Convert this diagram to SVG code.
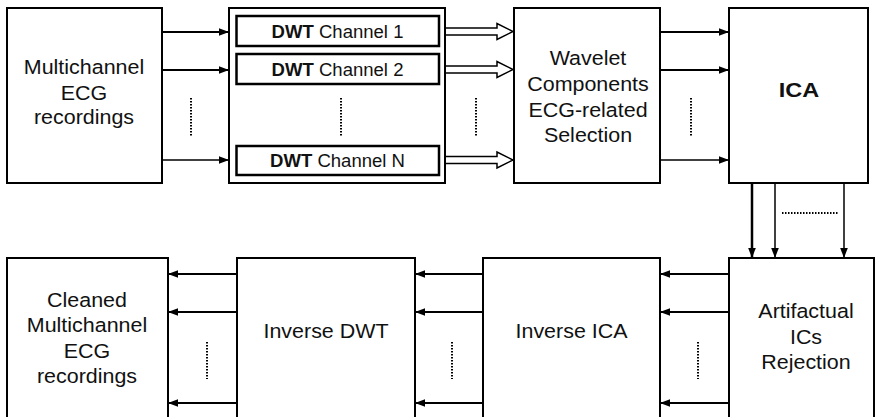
<svg xmlns="http://www.w3.org/2000/svg" width="876" height="417" viewBox="0 0 876 417">
<defs>
<style>
.box{fill:#fff;stroke:#000;stroke-width:2}
.inner{fill:#fff;stroke:#000;stroke-width:2.5}
.t{font-family:"Liberation Sans",Arial,sans-serif;font-size:19.5px;fill:#111;text-anchor:middle}
.ts{font-family:"Liberation Sans",Arial,sans-serif;font-size:17.5px;fill:#111;text-anchor:middle}
.b{font-weight:bold}
.ln{stroke:#000;stroke-width:2;fill:none}
.thin{stroke:#000;stroke-width:1.5;fill:none}
.dot{stroke:#000;stroke-width:2;stroke-dasharray:1.5 1.5;fill:none}
.hollow{fill:#fff;stroke:#000;stroke-width:1.5;stroke-linejoin:miter}
</style>
<marker id="ah" markerUnits="userSpaceOnUse" markerWidth="10" markerHeight="10" viewBox="0 0 10 10" refX="10" refY="5" orient="auto">
<path d="M0,1.2 L10,5 L0,8.8 Z" fill="#000"/>
</marker>
</defs>

<g id="multichannel">
<rect class="box" x="7" y="8" width="155" height="175"/>
<g class="t" transform="translate(84,0) scale(1.1,1)">
<text x="0" y="74">Multichannel</text>
<text x="0" y="100">ECG</text>
<text x="0" y="124">recordings</text>
</g>
</g>

<g id="dwt">
<rect class="box" x="229" y="8" width="216" height="175"/>
<rect class="inner" x="236.5" y="16" width="202.5" height="30"/>
<rect class="inner" x="236.5" y="54" width="202.5" height="30"/>
<rect class="inner" x="236.5" y="146" width="202.5" height="29"/>
<g transform="translate(337.5,0) scale(1.06,1)">
<text class="ts" x="0" y="38"><tspan class="b">DWT</tspan> Channel 1</text>
<text class="ts" x="0" y="76"><tspan class="b">DWT</tspan> Channel 2</text>
<text class="ts" x="0" y="167"><tspan class="b">DWT</tspan> Channel N</text>
</g>
<line class="dot" x1="341" y1="98" x2="341" y2="137"/>
</g>

<g id="wavelet">
<rect class="box" x="514" y="8" width="146" height="175"/>
<g class="t" transform="translate(588,0) scale(1.1,1)">
<text x="0" y="65">Wavelet</text>
<text x="0" y="91">Components</text>
<text x="0" y="117">ECG-related</text>
<text x="0" y="142">Selection</text>
</g>
</g>

<g id="ica">
<rect class="box" x="729" y="8" width="139" height="175"/>
<text class="t b" transform="translate(799,0) scale(1.12,1)" x="0" y="97" style="font-size:21px">ICA</text>
</g>

<g id="artifactual">
<rect class="box" x="729" y="258" width="145" height="170"/>
<g class="t" transform="translate(806,0) scale(1.1,1)">
<text x="0" y="318">Artifactual</text>
<text x="0" y="344">ICs</text>
<text x="0" y="369">Rejection</text>
</g>
</g>

<g id="inverse-ica">
<rect class="box" x="483" y="258" width="177" height="170"/>
<text class="t" transform="translate(571.5,0) scale(1.1,1)" x="0" y="338">Inverse ICA</text>
</g>

<g id="inverse-dwt">
<rect class="box" x="237" y="258" width="178" height="170"/>
<text class="t" transform="translate(326,0) scale(1.1,1)" x="0" y="338">Inverse DWT</text>
</g>

<g id="cleaned">
<rect class="box" x="7" y="258" width="161" height="170"/>
<g class="t" transform="translate(87,0) scale(1.1,1)">
<text x="0" y="307">Cleaned</text>
<text x="0" y="332">Multichannel</text>
<text x="0" y="358">ECG</text>
<text x="0" y="383">recordings</text>
</g>
</g>

<g id="connectors">
<line class="ln" x1="162" y1="32" x2="229" y2="32" marker-end="url(#ah)"/>
<line class="ln" x1="162" y1="70" x2="229" y2="70" marker-end="url(#ah)"/>
<line class="thin" x1="162" y1="160" x2="229" y2="160" marker-end="url(#ah)"/>
<line class="dot" x1="191" y1="98" x2="191" y2="137"/>
<path class="hollow" d="M446,28 L497,28 L497,23.5 L513,31.5 L497,39.5 L497,35 L446,35"/>
<path class="hollow" d="M446,66 L497,66 L497,61.5 L513,69.5 L497,77.5 L497,73 L446,73"/>
<path class="hollow" d="M446,156.5 L497,156.5 L497,152 L513,160 L497,168 L497,163.5 L446,163.5"/>
<line class="dot" x1="476" y1="98" x2="476" y2="137"/>
<line class="ln" x1="660" y1="32" x2="729" y2="32" marker-end="url(#ah)"/>
<line class="ln" x1="660" y1="70" x2="729" y2="70" marker-end="url(#ah)"/>
<line class="thin" x1="660" y1="160" x2="729" y2="160" marker-end="url(#ah)"/>
<line class="dot" x1="691" y1="98" x2="691" y2="137"/>
<line class="ln" x1="752" y1="183" x2="752" y2="258" style="stroke-width:2.5" marker-end="url(#ah)"/>
<line class="thin" x1="775" y1="183" x2="775" y2="258" marker-end="url(#ah)"/>
<line class="thin" x1="844" y1="183" x2="844" y2="258" marker-end="url(#ah)"/>
<line class="dot" x1="782" y1="213" x2="838" y2="213"/>
<line class="ln" x1="729" y1="274" x2="660" y2="274" marker-end="url(#ah)"/>
<line class="ln" x1="729" y1="312" x2="660" y2="312" marker-end="url(#ah)"/>
<line class="ln" x1="729" y1="403" x2="660" y2="403" marker-end="url(#ah)"/>
<line class="dot" x1="698" y1="342" x2="698" y2="379"/>
<line class="ln" x1="483" y1="274" x2="415" y2="274" marker-end="url(#ah)"/>
<line class="ln" x1="483" y1="312" x2="415" y2="312" marker-end="url(#ah)"/>
<line class="ln" x1="483" y1="403" x2="415" y2="403" marker-end="url(#ah)"/>
<line class="dot" x1="452" y1="342" x2="452" y2="379"/>
<line class="ln" x1="237" y1="274" x2="168" y2="274" marker-end="url(#ah)"/>
<line class="ln" x1="237" y1="312" x2="168" y2="312" marker-end="url(#ah)"/>
<line class="ln" x1="237" y1="403" x2="168" y2="403" marker-end="url(#ah)"/>
<line class="dot" x1="207" y1="342" x2="207" y2="379"/>
</g>
</svg>
